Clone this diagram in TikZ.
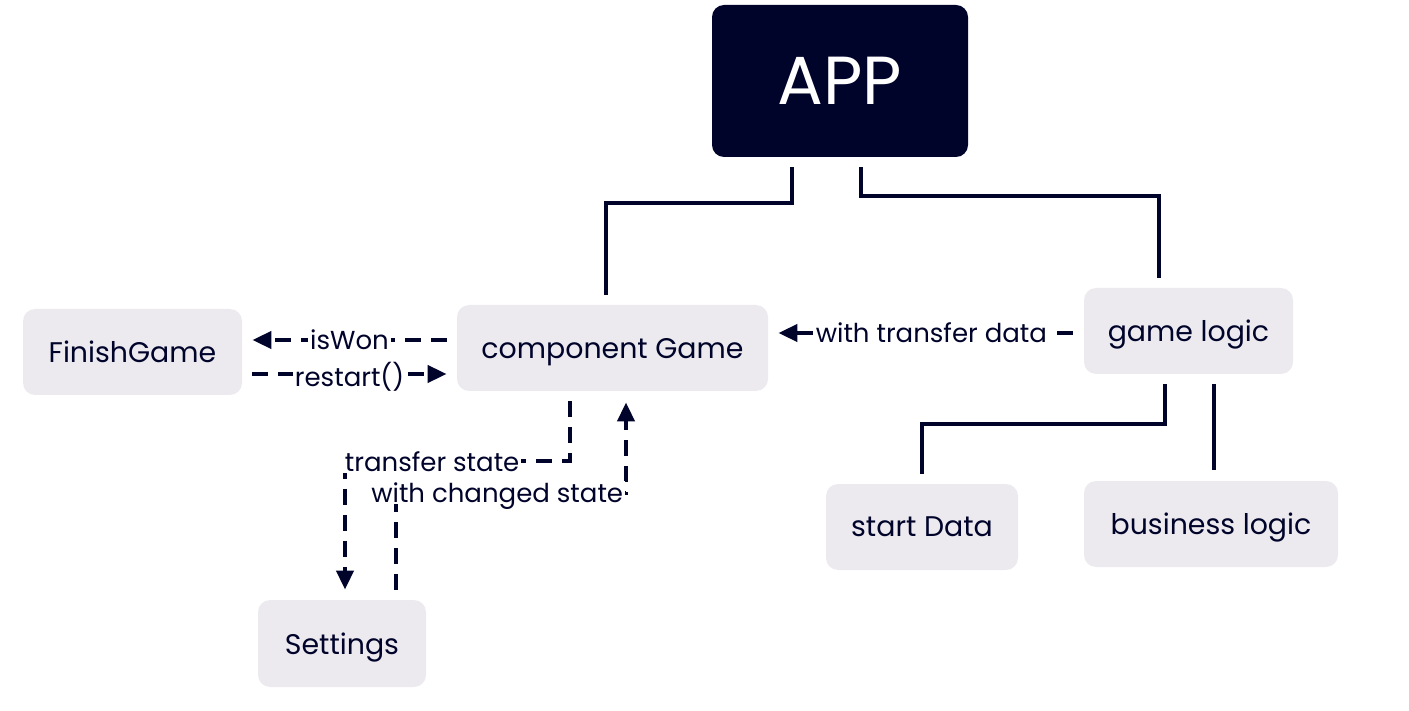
\documentclass[tikz,border=0pt]{standalone}
\usepackage{fontspec}
\setmainfont{Poppins}
\usetikzlibrary{calc, positioning, arrows.meta}
\definecolor{navy}{HTML}{00032A}
\definecolor{boxgray}{HTML}{ECEAEE}

\begin{document}
\begin{tikzpicture}[
    x=0.5pt, y=-0.5pt,
    box/.style={fill=boxgray, text=navy, rounded corners=6pt, inner sep=0pt, text depth=0pt,
      font=\fontsize{14.2}{16}\selectfont},
    link/.style={navy, line width=2pt},
    flow/.style={navy, line width=2pt, dash pattern=on 8pt off 5pt,
      -{Triangle[length=9.5pt, width=8.5pt]}},
    lbl/.style={fill=white, text=navy, inner sep=1pt, text depth=0pt, font=\fontsize{13}{15}\selectfont}
  ]
  \useasboundingbox (0,0) rectangle (1409,711);

  \node[fill=navy, text=white, rounded corners=6pt, minimum width=128pt, minimum height=76pt,
    font=\fontsize{34}{38}\selectfont] (app) at (840,81) {APP};

  \node[box, minimum width=109.5pt, minimum height=43pt] (finish) at (132.5,352) {FinishGame};
  \node[box, minimum width=155.5pt, minimum height=43pt] (game) at (612.5,348) {component Game};
  \node[box, minimum width=104.5pt, minimum height=43pt] (logic) at (1188.5,331) {game logic};
  \node[box, minimum width=96pt, minimum height=43pt] (startdata) at (922,527) {start Data};
  \node[box, minimum width=127pt, minimum height=43pt] (business) at (1211,524) {business logic};
  \node[box, minimum width=84pt, minimum height=43.5pt] (settings) at (342,643.5) {Settings};

  % tree lines
  \draw[link] ($(app.south)+(-48,10)$) -- ++(0,36) -| ($(game.north)+(-6.5,-10)$);
  \draw[link] ($(app.south)+(21,10)$) -- ++(0,29) -| ($(logic.north)+(-29.5,-10)$);
  \draw[link] ($(logic.south)+(-23.5,10)$) -- ++(0,40) -| ($(startdata.north)+(0,-10)$);
  \draw[link] ($(logic.south)+(25.5,10)$) -- ($(business.north)+(3,-11)$);

  % data flow
  \draw[flow] ($(game.west)+(-10,-8)$) -- node[lbl]{isWon} ($(finish.east)+(10,-12)$);
  \draw[flow] ($(finish.east)+(10,22)$) -- node[lbl]{restart()} ($(game.west)+(-10,26)$);
  \draw[flow] ($(logic.west)+(-11,2)$) -- node[lbl, pos=0.48]{with transfer data} ($(game.east)+(10,-15)$);
  \draw[flow] ($(game.south)+(-43,10)$) -- ++(0,60)
    -| node[lbl, pos=0.306]{transfer state} ($(settings.north)+(3,-10)$);
  \draw[flow] ($(settings.north)+(54,-10)$) -- ++(0,-97)
    -| node[lbl, pos=0.22]{with changed state} ($(game.south)+(13.5,11)$);
\end{tikzpicture}
\end{document}
